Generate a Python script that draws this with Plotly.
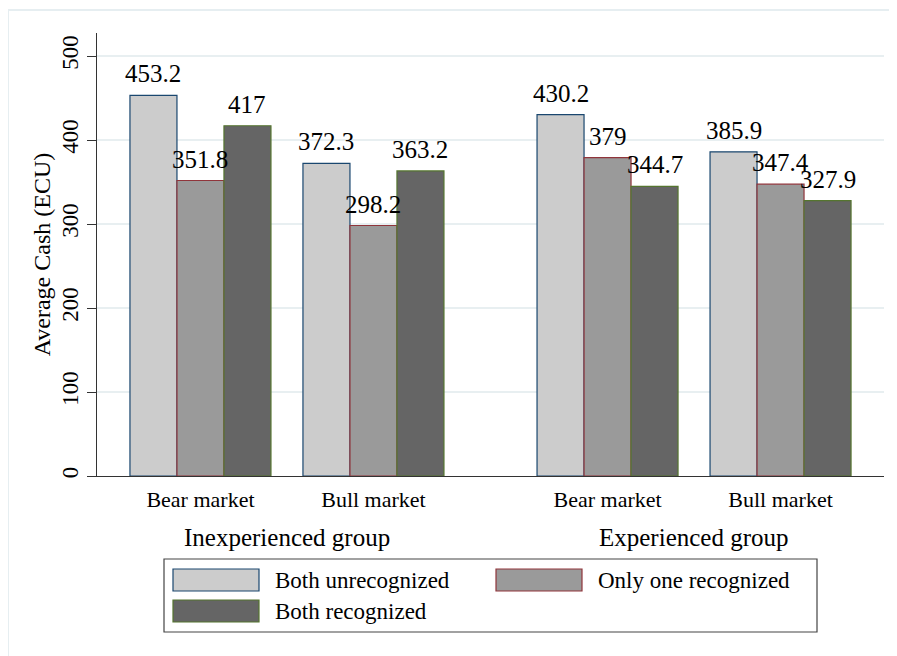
import plotly.graph_objects as go

# ---------------- data ----------------
markets = ["Bear market", "Bull market", "Bear market", "Bull market"]
groups = ["Inexperienced group", "Experienced group"]
series_names = ["Both unrecognized", "Only one recognized", "Both recognized"]
both_unrecognized = [453.2, 372.3, 430.2, 385.9]
only_one_recognized = [351.8, 298.2, 379, 347.4]
both_recognized = [417, 363.2, 344.7, 327.9]
y_ticks = [0, 100, 200, 300, 400, 500]

# ---------------- layout / style ----------------
positions = [0, 1, 2.353, 3.353]          # category slots on the x axis
group_members = [[0, 1], [2, 3]]
fills = ["#cccccc", "#9a9a9a", "#656565"]
edges = ["#1a476f", "#90353b", "#55752f"]
FONT = "Liberation Serif, Times New Roman, serif"
BARGAP = 0.185

# page offset: the browser body has an 8px margin
OFF = 8
W, H = 897 - OFF, 656 - OFF
L, R, T, B = 97 - OFF, 884 - OFF, 33 - OFF, 476 - OFF


def px2x(px):
    return (px - OFF - L) / (R - L)


def py2y(py):
    return (B - (py - OFF)) / (B - T)


fig = go.Figure()
series_values = [both_unrecognized, only_one_recognized, both_recognized]
n_series = len(series_values)
bar_w = (1 - BARGAP) / n_series
annotations = []
for k, (name, vals, fc, ec) in enumerate(zip(series_names, series_values, fills, edges)):
    fig.add_trace(go.Bar(
        x=positions, y=vals, name=name,
        marker=dict(color=fc, line=dict(color=ec, width=1.2)),
        showlegend=False,
    ))
    off = (k - (n_series - 1) / 2) * bar_w
    for p, v in zip(positions, vals):
        annotations.append(dict(x=p + off, xref="x", y=v, yref="y",
                                text=f"{v:g}", showarrow=False,
                                xanchor="center", yanchor="bottom", yshift=6,
                                font=dict(family=FONT, size=25, color="#000")))

shapes = []

# outer frame (only top & left visible)
shapes.append(dict(type="rect", xref="paper", yref="paper",
                   x0=px2x(8), x1=px2x(897 + 20), y0=py2y(656 + 20), y1=py2y(10),
                   line=dict(color="#e6eef1", width=2), layer="below"))

# group labels
for gname, members in zip(groups, group_members):
    cx = sum(positions[m] for m in members) / len(members)
    annotations.append(dict(x=cx, xref="x", y=py2y(537), yref="paper",
                            text=gname, showarrow=False,
                            font=dict(family=FONT, size=25, color="#000"),
                            xanchor="center", yanchor="middle"))

# legend (drawn manually to mimic the original's large swatches)
shapes.append(dict(type="rect", xref="paper", yref="paper",
                   x0=px2x(164), x1=px2x(817), y0=py2y(632), y1=py2y(559),
                   line=dict(color="#444444", width=1.2), fillcolor="white"))
legend_slots = [(173, 569), (496, 569), (173, 600)]
for (sx, sy), name, fc, ec in zip(legend_slots, series_names, fills, edges):
    shapes.append(dict(type="rect", xref="paper", yref="paper",
                       x0=px2x(sx), x1=px2x(sx + 86), y0=py2y(sy + 22), y1=py2y(sy),
                       line=dict(color=ec, width=1.2), fillcolor=fc))
    annotations.append(dict(x=px2x(sx + 100), xref="paper", y=py2y(sy + 11), yref="paper",
                            text=name, showarrow=False,
                            font=dict(family=FONT, size=23, color="#000"),
                            xanchor="left", yanchor="middle"))

fig.update_layout(
    width=W, height=H,
    margin=dict(l=L, r=W - R, t=T, b=H - B, pad=0),
    paper_bgcolor="white", plot_bgcolor="white",
    barmode="group", bargap=BARGAP, bargroupgap=0,
    font=dict(family=FONT, color="#000"),
    shapes=shapes, annotations=annotations,
    showlegend=False,
)
fig.update_xaxes(
    range=[-0.598, 3.951],
    tickmode="array", tickvals=positions, ticktext=markets,
    tickfont=dict(family=FONT, size=22, color="#000"),
    showgrid=False, zeroline=False,
    showline=True, linecolor="#333333", linewidth=1.2,
    ticks="", ticklabelstandoff=3,
)
fig.update_yaxes(
    range=[0, 527.4],
    tickmode="array", tickvals=y_ticks,
    tickangle=-90,
    tickfont=dict(family=FONT, size=23, color="#000"),
    showgrid=True, gridcolor="#e8eff1", gridwidth=2,
    zeroline=False,
    showline=True, linecolor="#333333", linewidth=1.2,
    ticks="outside", ticklen=9, tickcolor="#333333", tickwidth=1.2,
    title=dict(text="Average Cash (ECU)", font=dict(family=FONT, size=24, color="#000"),
               standoff=0),
)

fig.write_html("out.html")
